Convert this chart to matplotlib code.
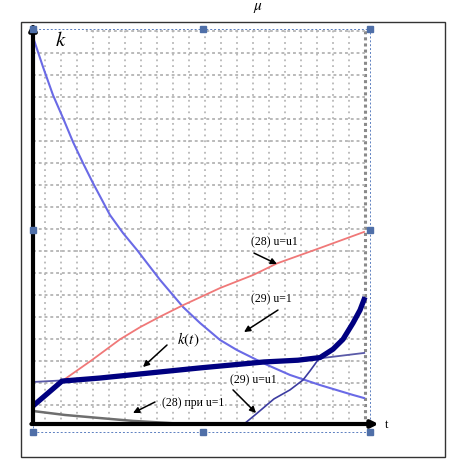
import numpy as np
import matplotlib.pyplot as plt
from matplotlib.patches import Rectangle

# curves, t in grid cells, k in grid cells
t_a = [0, 0.625, 1.25, 1.875, 2.5, 3.125, 3.75, 4.81, 5.625, 6.5, 7.94,
       9.375, 10.44, 11.69, 12.75, 13.75, 14.375, 16.06, 17.94, 20.0, 20.69]
k_a = [17.59, 16.23, 14.95, 13.91, 12.82, 11.86, 10.95, 9.5, 8.68, 7.91, 6.55,
       5.32, 4.59, 3.82, 3.36, 3.0, 2.77, 2.23, 1.77, 1.32, 1.18]

t_red = [1.81, 3.69, 5.44, 6.69, 7.94, 9.375, 11.69, 13.75, 15.25, 17.94, 20.69]
k_red = [1.95, 2.91, 3.85, 4.4, 4.88, 5.4, 6.18, 6.77, 7.3, 8.0, 8.73]

t_kt = [0, 1.81, 4.19, 7.31, 10.44, 12.375, 14.44, 16.56, 17.94, 18.75, 19.375, 20.0, 20.44, 20.75]
k_kt = [0.82, 1.95, 2.09, 2.32, 2.55, 2.68, 2.82, 2.9, 3.02, 3.4, 3.85, 4.59, 5.18, 5.77]

t_thin = [0, 1.8, 18.1, 20.7]
k_thin = [1.91, 1.98, 3.0, 3.23]

t_u1 = [13.19, 13.94, 15.06, 16.06, 16.875, 17.31, 17.81, 17.94]
k_u1 = [0, 0.45, 1.14, 1.55, 2.0, 2.41, 2.91, 3.0]

t_grey = [0, 2.0, 4.19, 6.25, 8.4, 9.375]
k_grey = [0.59, 0.41, 0.27, 0.14, 0.05, 0]

grid_t = np.arange(0.75, 20.8, 1.0)
grid_k = np.arange(0.85, 18.0, 1.0)

W, H = 462, 461
fig = plt.figure(figsize=(W/100, H/100), dpi=100)
ax = fig.add_axes([33/W, 1-424/H, 344/W, 401/H])
ax.set_xlim(0, 21.5)
ax.set_ylim(0, 401/22)
ax.axis('off')

serif = ['Liberation Serif', 'DejaVu Serif']

# outer frame
fig.add_artist(Rectangle((21/W, 1-457/H), 424/W, 435/H, transform=fig.transFigure,
                         fill=False, lw=1.0, ec='#333333'))

# grid
for g in grid_t[:-1]:
    ax.plot([g, g], [-0.3, 17.95], color='#b8b8b8', lw=1.3, ls=(0, (1, 2.2)), zorder=1)
ax.plot([grid_t[-1]]*2, [-0.3, 17.95], color='#8a8a8a', lw=2.2, ls=(0, (1, 1)), zorder=1)
for g in grid_k:
    ax.plot([0, 20.75], [g, g], color='#b4b4b4', lw=1.3, ls=(0, (1.6, 1.6)), zorder=1)

# white box behind k
ax.add_patch(Rectangle((0.19, 16.9), 3.1, 1.3, fc='white', ec='none', zorder=2))

# selection frame + handles
ax.add_patch(Rectangle((0, -0.36), 21.06, 18.31, fill=False, ec='#5b7fc0', lw=0.7,
                       ls=(0, (2, 2)), zorder=2, clip_on=False))
hx = [0, 10.625, 21.06]
hy = [-0.36, 8.8, 17.95]
for x in hx:
    for y in hy:
        if x == 10.625 and y == 8.8:
            continue
        ax.plot(x, y, marker='s', ms=4, color='#4f6fa8', zorder=6, clip_on=False)

# curves
ax.plot(t_a, k_a, color='#6a6ae6', lw=1.5, zorder=3)
ax.plot(t_red, k_red, color='#f07878', lw=1.3, zorder=3)
ax.plot(t_thin, k_thin, color='#5a5aa8', lw=1.3, zorder=3)
ax.plot(t_u1, k_u1, color='#3c3ca0', lw=1.2, zorder=3)
ax.plot(t_grey, k_grey, color='#6e6e6e', lw=1.8, zorder=3)
ax.plot(t_kt, k_kt, color='#000080', lw=3.8, zorder=4, solid_capstyle='butt')

# axes with arrows
ax.annotate('', xy=(0, 18.25), xytext=(0, 0),
            arrowprops=dict(arrowstyle='-|>', color='black', lw=3, mutation_scale=10,
                            shrinkA=0, shrinkB=0), annotation_clip=False, zorder=5)
ax.annotate('', xy=(21.6, 0), xytext=(-0.1, 0),
            arrowprops=dict(arrowstyle='-|>', color='black', lw=3, mutation_scale=10,
                            shrinkA=0, shrinkB=0), annotation_clip=False, zorder=5)

# labels
box = dict(fc='white', ec='none', pad=0.5)
lab = dict(family=serif, fontsize=8.5, ha='center', va='center', zorder=7)
ax.text(15.1, 8.27, '(28) u=u1', bbox=box, **lab)
ax.text(14.9, 5.68, '(29) u=1', bbox=box, **lab)
ax.text(10.0, 0.95, '(28) при u=1', bbox=box, **lab)
ax.text(13.75, 2.0, '(29) u=u1', bbox=box, **lab)
ax.text(9.69, 3.82, '$k(t)$', family=serif, fontsize=11, ha='center', va='center',
        math_fontfamily='stix', bbox=box, zorder=7)
ax.text(1.75, 17.45, '$k$', fontsize=15, ha='center', va='center', math_fontfamily='stix', zorder=7)
ax.text(22.1, -0.05, 't', family=serif, fontsize=9, ha='center', va='center', clip_on=False)
fig.text(258/W, 1, r'$\mu$', fontsize=11, ha='center', va='top', math_fontfamily='stix')

arrows = [((13.81, 7.77), (15.25, 7.27)),
          ((15.31, 5.18), (13.19, 4.18)),
          ((8.375, 3.59), (6.875, 2.59)),
          ((7.625, 1.0), (6.25, 0.5)),
          ((12.5, 1.55), (13.94, 0.5))]
for (x0, y0), (x1, y1) in arrows:
    ax.annotate('', xy=(x1, y1), xytext=(x0, y0),
                arrowprops=dict(arrowstyle='-|>', color='black', lw=1.1, mutation_scale=9,
                                shrinkA=0, shrinkB=0), zorder=7)

fig.savefig('out.png', dpi=100)
